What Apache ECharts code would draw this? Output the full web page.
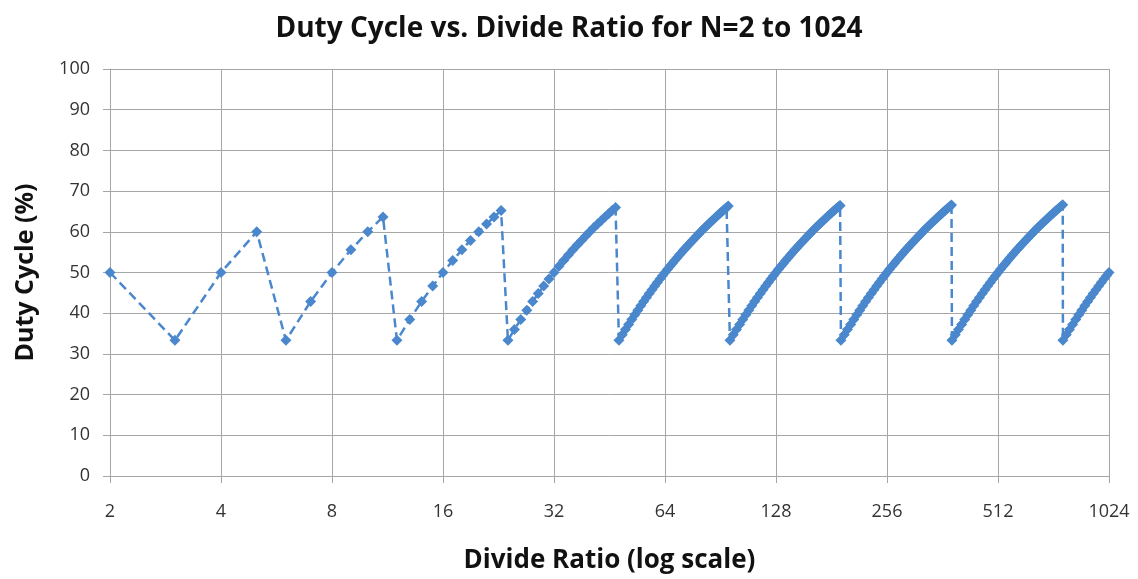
<!DOCTYPE html>
<html>
<head>
<meta charset="utf-8">
<script src="https://cdn.jsdelivr.net/npm/echarts@6/dist/echarts.min.js"></script>
<style>html,body{margin:0;padding:0;background:#fff}#c{width:1138px;height:579px}</style>
</head>
<body>
<div id="c"></div>
<script>
// Divide ratio N and duty cycle (%), one array per saw-tooth segment
const seg2to5 = [[2,50],[3,33.33],[4,50],[5,60]];
const seg6to11 = [[6,33.33],[7,42.86],[8,50],[9,55.56],[10,60],[11,63.64]];
const seg12to23 = [[12,33.33],[13,38.46],[14,42.86],[15,46.67],[16,50],[17,52.94],[18,55.56],[19,57.89],[20,60],[21,61.90],[22,63.64],[23,65.22]];
const seg24to47 = [[24,33.33],[25,36],[26,38.46],[27,40.74],[28,42.86],[29,44.83],[30,46.67],[31,48.39],[32,50],[33,51.52],[34,52.94],[35,54.29],[36,55.56],[37,56.76],[38,57.89],[39,58.97],[40,60],[41,60.98],[42,61.90],[43,62.79],[44,63.64],[45,64.44],[46,65.22],[47,65.96]];
const seg48to95 = [[48,33.33],[49,34.69],[50,36],[51,37.25],[52,38.46],[53,39.62],[54,40.74],[55,41.82],[56,42.86],[57,43.86],[58,44.83],[59,45.76],[60,46.67],[61,47.54],[62,48.39],[63,49.21],[64,50],[65,50.77],[66,51.52],[67,52.24],[68,52.94],[69,53.62],[70,54.29],[71,54.93],[72,55.56],[73,56.16],[74,56.76],[75,57.33],[76,57.89],[77,58.44],[78,58.97],[79,59.49],[80,60],[81,60.49],[82,60.98],[83,61.45],[84,61.90],[85,62.35],[86,62.79],[87,63.22],[88,63.64],[89,64.04],[90,64.44],[91,64.84],[92,65.22],[93,65.59],[94,65.96],[95,66.32]];
const seg96to191 = [[96,33.33],[98,34.69],[100,36],[102,37.25],[104,38.46],[106,39.62],[108,40.74],[110,41.82],[112,42.86],[114,43.86],[116,44.83],[118,45.76],[120,46.67],[122,47.54],[124,48.39],[126,49.21],[128,50],[130,50.77],[132,51.52],[134,52.24],[136,52.94],[138,53.62],[140,54.29],[142,54.93],[144,55.56],[146,56.16],[148,56.76],[150,57.33],[152,57.89],[154,58.44],[156,58.97],[158,59.49],[160,60],[162,60.49],[164,60.98],[166,61.45],[168,61.90],[170,62.35],[172,62.79],[174,63.22],[176,63.64],[178,64.04],[180,64.44],[182,64.84],[184,65.22],[186,65.59],[188,65.96],[190,66.32],[191,66.49]];
const seg192to383 = [[192,33.33],[196,34.69],[200,36],[204,37.25],[208,38.46],[212,39.62],[216,40.74],[220,41.82],[224,42.86],[228,43.86],[232,44.83],[236,45.76],[240,46.67],[244,47.54],[248,48.39],[252,49.21],[256,50],[260,50.77],[264,51.52],[268,52.24],[272,52.94],[276,53.62],[280,54.29],[284,54.93],[288,55.56],[292,56.16],[296,56.76],[300,57.33],[304,57.89],[308,58.44],[312,58.97],[316,59.49],[320,60],[324,60.49],[328,60.98],[332,61.45],[336,61.90],[340,62.35],[344,62.79],[348,63.22],[352,63.64],[356,64.04],[360,64.44],[364,64.84],[368,65.22],[372,65.59],[376,65.96],[380,66.32],[383,66.58]];
const seg384to767 = [[384,33.33],[392,34.69],[400,36],[408,37.25],[416,38.46],[424,39.62],[432,40.74],[440,41.82],[448,42.86],[456,43.86],[464,44.83],[472,45.76],[480,46.67],[488,47.54],[496,48.39],[504,49.21],[512,50],[520,50.77],[528,51.52],[536,52.24],[544,52.94],[552,53.62],[560,54.29],[568,54.93],[576,55.56],[584,56.16],[592,56.76],[600,57.33],[608,57.89],[616,58.44],[624,58.97],[632,59.49],[640,60],[648,60.49],[656,60.98],[664,61.45],[672,61.90],[680,62.35],[688,62.79],[696,63.22],[704,63.64],[712,64.04],[720,64.44],[728,64.84],[736,65.22],[744,65.59],[752,65.96],[760,66.32],[767,66.62]];
const seg768to1024 = [[768,33.33],[784,34.69],[800,36],[816,37.25],[832,38.46],[848,39.62],[864,40.74],[880,41.82],[896,42.86],[912,43.86],[928,44.83],[944,45.76],[960,46.67],[976,47.54],[992,48.39],[1008,49.21],[1024,50]];

const xTicks = [2,4,8,16,32,64,128,256,512,1024];
const yTicks = [0,10,20,30,40,50,60,70,80,90,100];

const allPoints = [].concat(seg2to5, seg6to11, seg12to23, seg24to47, seg48to95, seg96to191, seg192to383, seg384to767, seg768to1024);

const FONT = '"Open Sans", Lato, sans-serif';
const GRID = '#a6a6a6';
const BLUE = '#4a87cc';

const chart = echarts.init(document.getElementById('c'), null, {renderer: 'canvas'});
chart.setOption({
  backgroundColor: '#ffffff',
  animation: false,
  title: {
    text: 'Duty Cycle vs. Divide Ratio for N=2 to 1024',
    left: 'center', top: 10,
    textStyle: {fontFamily: FONT, fontSize: 28, fontWeight: 'bold', color: '#111'}
  },
  grid: {left: 110, right: 29, top: 69, bottom: 100, containLabel: false},
  xAxis: {
    type: 'log', logBase: 2, min: xTicks[0], max: xTicks[xTicks.length - 1],
    name: 'Divide Ratio (log scale)', nameLocation: 'middle', nameGap: 72,
    nameTextStyle: {fontFamily: FONT, fontSize: 26, fontWeight: 'bold', color: '#111'},
    axisLine: {show: true, lineStyle: {color: GRID, width: 1}},
    axisTick: {show: true, length: 7, inside: false, lineStyle: {color: GRID}},
    axisLabel: {margin: 27, fontFamily: FONT, fontSize: 18, color: '#333',
      formatter: v => String(Math.round(v))},
    splitLine: {show: true, lineStyle: {color: GRID, width: 1}},
    minorTick: {show: false}
  },
  yAxis: {
    type: 'value', min: yTicks[0], max: yTicks[yTicks.length - 1], interval: 10,
    name: 'Duty Cycle (%)', nameLocation: 'middle', nameGap: 72, nameRotate: 90,
    nameTextStyle: {fontFamily: FONT, fontSize: 25, fontWeight: 'bold', color: '#111'},
    axisLine: {show: true, lineStyle: {color: GRID, width: 1}},
    axisTick: {show: true, length: 7, lineStyle: {color: GRID}},
    axisLabel: {margin: 20, fontFamily: FONT, fontSize: 18, color: '#333'},
    splitLine: {show: true, lineStyle: {color: GRID, width: 1}}
  },
  series: [{
    type: 'line',
    data: allPoints,
    symbol: 'diamond', symbolSize: 11,
    showSymbol: true, showAllSymbol: true,
    itemStyle: {color: BLUE},
    lineStyle: {color: BLUE, width: 2.5, type: [9, 5]},
    clip: false
  }]
});
</script>
</body>
</html>
